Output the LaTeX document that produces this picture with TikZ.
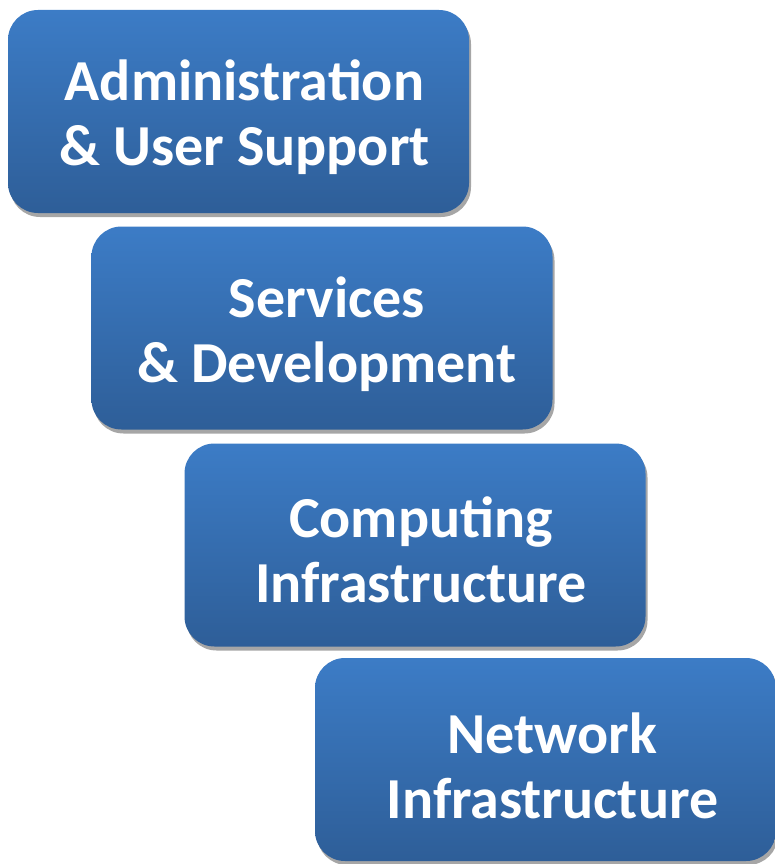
\documentclass[tikz,border=0pt]{standalone}
\usepackage{fontspec}
\setmainfont{Carlito}
\usetikzlibrary{shadows}

\definecolor{boxtop}{RGB}{60,124,198}
\definecolor{boxbottom}{RGB}{46,94,152}
\definecolor{boxshadow}{RGB}{166,166,166}

\tikzset{
	layerbox/.style={minimum width=461pt, minimum height=203pt, inner sep=0pt,
		rounded corners=30pt, top color=boxtop, bottom color=boxbottom,
		drop shadow={shadow xshift=2pt, shadow yshift=-4pt, fill=boxshadow, opacity=1}},
	layertext/.style={align=center, text=white, font=\fontsize{58}{65}\selectfont\bfseries}
}

\begin{document}
\begin{tikzpicture}[x=1pt, y=1pt]
	\useasboundingbox (0,0) rectangle (774,-864);
	
	\node[layerbox] (admin) at (238.5,-111.5) {};
	\node[layerbox] (serv) at (322,-328) {};
	\node[layerbox] (comp) at (415,-545) {};
	\node[layerbox] (net) at (545.5,-759.5) {};
	
	\node[layertext] (admintxt) at ([xshift=6pt, yshift=-6pt]admin.center) {Administration\\\& User Support};
	\node[layertext] (servtxt) at ([xshift=5pt, yshift=-6pt]serv.center) {Services\\\& Development};
	\node[layertext] (comptxt) at ([xshift=6pt, yshift=-5pt]comp.center) {Computing\\Infrastructure};
	\node[layertext] (nettxt) at ([xshift=7pt, yshift=-6pt]net.center) {Network\\Infrastructure};
	
\end{tikzpicture}
\end{document}
